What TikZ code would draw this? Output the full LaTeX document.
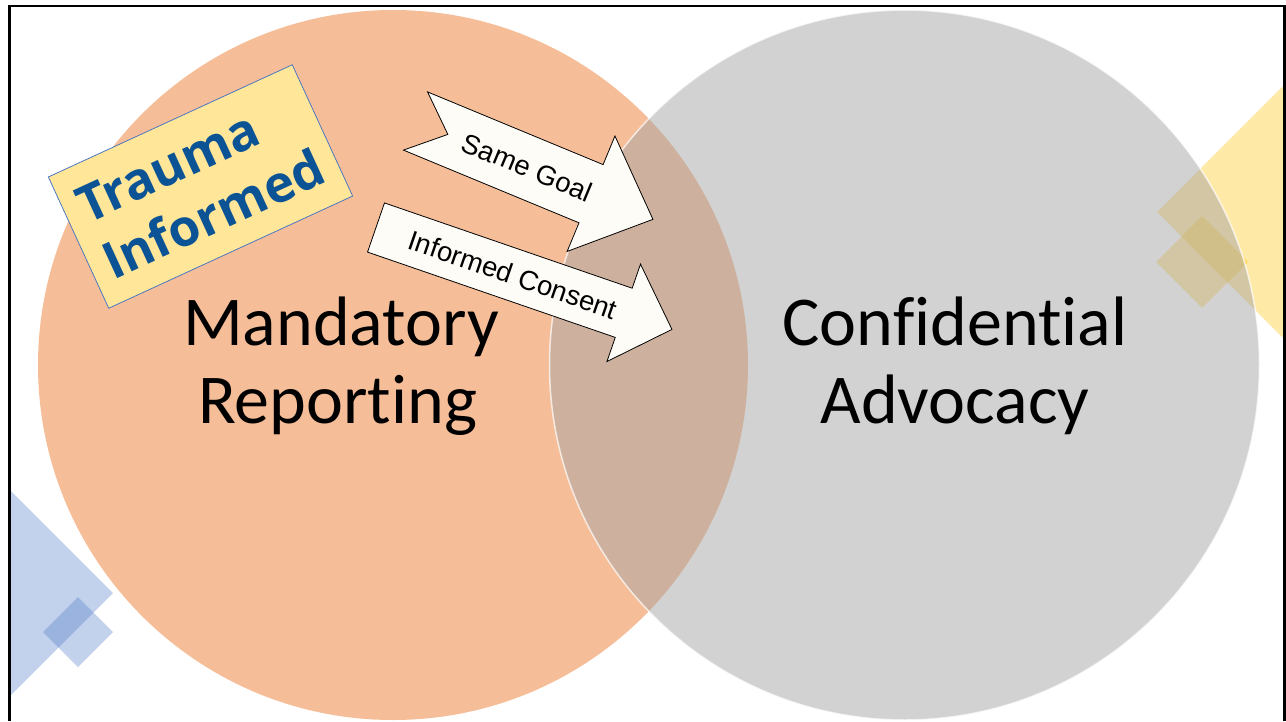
\documentclass[tikz,border=0pt]{standalone}
\usepackage{fontspec}
\setmainfont{Carlito}[Ligatures=NoCommon]
\newfontfamily\arialfont{Liberation Sans}
\newfontfamily\notefont{Open Sans}
\usetikzlibrary{positioning}
\definecolor{vorange}{HTML}{ED7D31}
\definecolor{vgray}{HTML}{A5A5A5}
\definecolor{vgold}{HTML}{FFC000}
\definecolor{vblue}{HTML}{4472C4}
\definecolor{notefill}{HTML}{FFE699}
\definecolor{notetext}{HTML}{0B5394}
\definecolor{arrowfill}{HTML}{FDFCF7}
\tikzset{
  venn/.style={circle, minimum size=710pt, inner sep=0pt, fill opacity=0.5},
  bigword/.style={font=\fontsize{70}{78}\selectfont, anchor=base, inner sep=0pt},
  arrowbox/.style={draw=black, line width=0.8pt, fill=arrowfill},
  arrowword/.style={font=\arialfont\fontsize{27.5}{30}\selectfont, inner sep=0pt},
  golddeco/.style={fill=vgold, fill opacity=0.35},
  bluedeco/.style={fill=vblue, fill opacity=0.32},
}
\begin{document}
\begin{tikzpicture}[x=1pt, y=-1pt]
  \useasboundingbox (0,0) rectangle (1286,721);
  % slide decorations
  \begin{scope}
    \clip (9,6) rectangle (1284,721);
    \fill[golddeco] (1157,212) -- (1285.5,83.5) -- (1414,212) -- (1285.5,340.5) -- cycle;
    \fill[golddeco] (1202,216) -- (1248,262) -- (1202,308) -- (1156,262) -- cycle;
    \fill[bluedeco] (10,490) -- (113,593) -- (10,696) -- (-93,593) -- cycle;
    \fill[bluedeco] (78,597) -- (113,632) -- (78,667) -- (43,632) -- cycle;
  \end{scope}
  % venn circles
  \node[venn, fill=vorange] (report) at (393,365) {};
  \node[venn, fill=vgray, draw=white, draw opacity=0.7, line width=1.5pt] (advocate) at (904.5,365) {};
  \node[bigword] (mandatory) at (341,345) {Mandatory};
  \node[bigword] (reporting) at (337.5,423) {Reporting};
  \node[bigword] (confidential) at (955,345) {Confidential};
  \node[bigword] (advocacy) at (955,423) {Advocacy};
  % trauma informed note
  \node[draw=vblue, line width=0.75pt, fill=notefill, minimum width=268.5pt,
        minimum height=144.5pt, inner sep=0pt, rotate=24.7] (tibox) at (200.5,186.5) {};
  \node[font=\notefont\bfseries\fontsize{51}{62}\selectfont, text=notetext,
        align=left, inner sep=0pt, rotate=24.7] (titext) at (tibox.center) {Trauma\\Informed};
  % block arrows
  \begin{scope}[shift={(415.5,121)}, rotate=-22.5]
    \draw[arrowbox] (0,-31.5) -- (190,-31.5) -- (190,-62.5) -- (257,0) -- (190,62.5)
      -- (190,31.5) -- (0,31.5) -- (35,0) -- cycle;
    \node[arrowword, rotate=-22.5] (goal) at (121,0) {Same Goal};
  \end{scope}
  \begin{scope}[shift={(376,227.5)}, rotate=-19]
    \draw[arrowbox] (0,-26) -- (262,-26) -- (262,-51.5) -- (313,0) -- (262,51.5)
      -- (262,26) -- (0,26) -- cycle;
    \node[arrowword, rotate=-19] (consent) at (145,0) {Informed Consent};
  \end{scope}
  % frame
  \draw[line width=2.5pt] (9.5,721) -- (9.5,6) -- (1284.3,6) -- (1284.3,721);
\end{tikzpicture}
\end{document}
